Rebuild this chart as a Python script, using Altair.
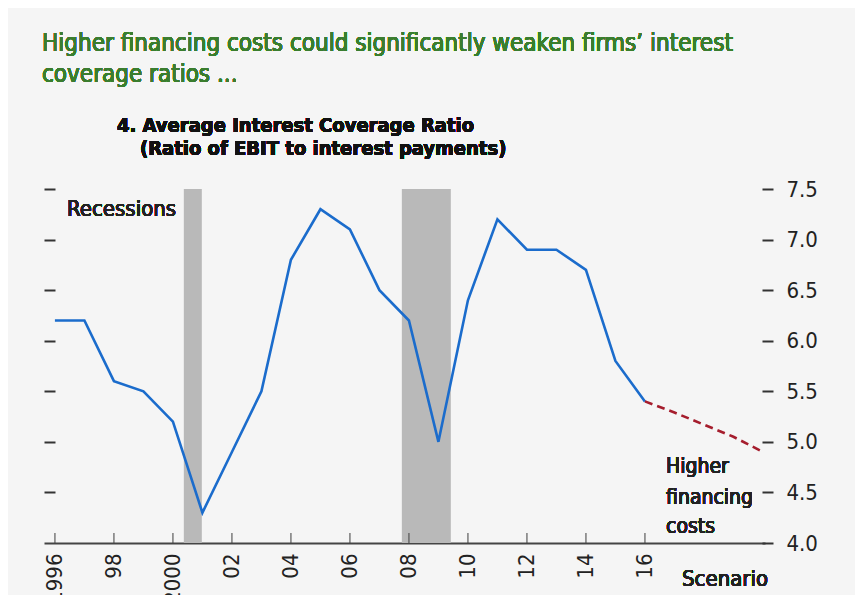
import altair as alt
import pandas as pd

# ---- data ----
YEARS = list(range(1996, 2017))
ICR = [6.2, 6.2, 5.6, 5.5, 5.2, 4.3, 4.9, 5.5, 6.8, 7.3, 7.1,
       6.5, 6.2, 5.0, 6.4, 7.2, 6.9, 6.9, 6.7, 5.8, 5.4]
SCEN_YEARS = [2016, 2017, 2018, 2019, 2020]
SCEN = [5.4, 5.29, 5.17, 5.05, 4.9]
REC_START = [2000.37, 2007.76]
REC_END = [2000.98, 2009.42]
TICK_YEARS = list(range(1996, 2017, 2))
TICK_LABELS = ["1996", "98", "2000", "02", "04", "06", "08", "10", "12", "14", "16"]
Y_TICKS = [4.0, 4.5, 5.0, 5.5, 6.0, 6.5, 7.0, 7.5]

TITLE1 = "Higher financing costs could significantly weaken firms\u2019 interest"
TITLE2 = "coverage ratios ..."
SUB1 = "4. Average Interest Coverage Ratio"
SUB2 = "(Ratio of EBIT to interest payments)"

hist = pd.DataFrame({"year": YEARS, "icr": ICR})
scen = pd.DataFrame({"year": SCEN_YEARS, "icr": SCEN})
rec = pd.DataFrame({"start": REC_START, "end": REC_END})
ticks = pd.DataFrame({"year": TICK_YEARS})

W, H = 721, 354
FONT = "DejaVu Sans Condensed, Liberation Sans, sans-serif"
XDOM = [1995.63, 2020.07]
YDOM = [4.0, 7.5]
xs = alt.Scale(domain=XDOM, nice=False, zero=False)
ys = alt.Scale(domain=YDOM, nice=False, zero=False)

label_expr = " : ".join(
    f"datum.value == {y} ? '{l}'" for y, l in zip(TICK_YEARS, TICK_LABELS)
) + " : ''"

XAXIS = alt.Axis(
    values=TICK_YEARS, labelExpr=label_expr, labelAngle=270,
    labelAlign="right", labelBaseline="middle", labelPadding=10,
    labelFontSize=22, labelFont=FONT, labelColor="#222",
    ticks=False, grid=False, domain=True, domainColor="#444",
    domainWidth=2, title=None)

bands = alt.Chart(rec).mark_rect(color="#b9b9b9").encode(
    x=alt.X("start:Q", scale=xs, axis=XAXIS),
    x2="end:Q",
    y=alt.value(0),
    y2=alt.value(H),
)

line = alt.Chart(hist).mark_line(color="#1b6ccc", strokeWidth=2.6).encode(
    x=alt.X("year:Q", scale=xs, axis=XAXIS),
    y=alt.Y("icr:Q", scale=ys, axis=alt.Axis(
        orient="left", values=Y_TICKS[1:], labels=False, domain=False,
        ticks=True, tickSize=11, tickWidth=2, tickColor="#333",
        offset=-11, grid=False, title=None)),
)

scen_line = alt.Chart(scen).mark_line(
    color="#a51d2d", strokeWidth=2.6, strokeDash=[8, 5]
).encode(
    x=alt.X("year:Q", scale=xs, axis=XAXIS),
    y=alt.Y("icr:Q", scale=ys, axis=alt.Axis(
        orient="right", values=Y_TICKS, format=".1f", domain=False,
        ticks=True, tickSize=11, tickWidth=2, tickColor="#333",
        offset=-3, labelPadding=13, labelFontSize=22, labelFont=FONT,
        labelColor="#222", grid=False, title=None)),
)

xticks = alt.Chart(ticks).mark_tick(
    color="#444", thickness=1.5, size=10, yOffset=-5
).encode(
    x=alt.X("year:Q", scale=xs, axis=XAXIS),
    y=alt.value(H),
)


def label(text, x, y, size, color="#222", weight="normal"):
    return alt.Chart(hist).mark_text(
        text=text, align="left", baseline="alphabetic", font=FONT,
        fontSize=size, color=color, fontWeight=weight,
    ).encode(x=alt.value(x), y=alt.value(y))


texts = [
    label(TITLE1, -2, -138, 24, "#3a7d2e"),
    label(TITLE2, -2, -107, 24, "#3a7d2e"),
    label(SUB1, 73, -57, 20, "#111", "bold"),
    label(SUB2, 96, -34, 20, "#111", "bold"),
    label("Recessions", 23, 27, 22),
    label("Higher", 622, 284, 21),
    label("financing", 622, 315, 21),
    label("costs", 622, 344, 21),
    label("Scenario", 638, 397, 22),
]

chart = alt.layer(bands, line, scen_line, xticks, *texts).resolve_scale(
    y="independent"
).properties(
    width=W, height=H,
    autosize=alt.AutoSizeParams(type="none"),
    padding={"left": 36, "top": 181, "right": 90, "bottom": 52},
    background="#f5f5f5",
).configure_view(stroke=None)

chart.save("out.html", embed_options={"renderer": "svg", "actions": False})
